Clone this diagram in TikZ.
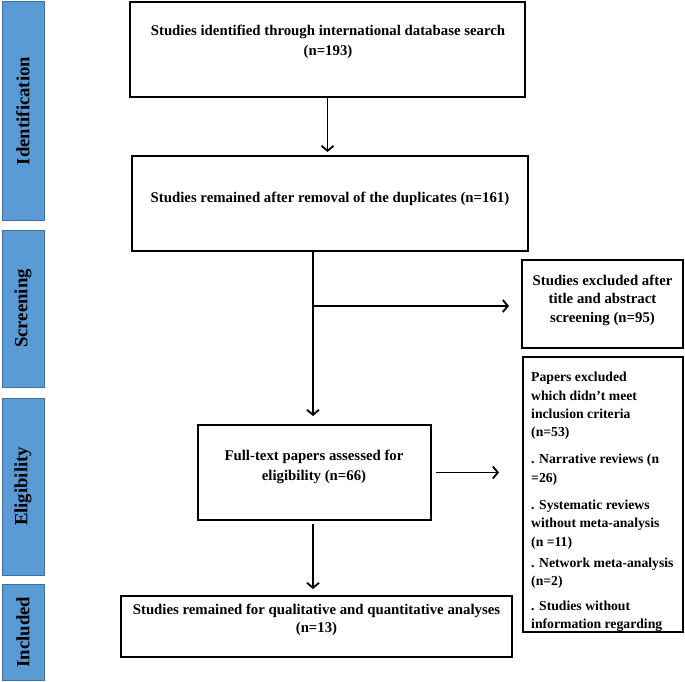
\documentclass[tikz,border=0pt]{standalone}
\usepackage{fontspec}
\setmainfont{Liberation Serif}
\usetikzlibrary{arrows.meta}
\definecolor{phasefill}{HTML}{5B9BD5}
\definecolor{phaseline}{HTML}{41719C}
\tikzset{
  phase/.style={draw=phaseline, fill=phasefill, line width=1pt, rotate=90,
    inner sep=0pt, font=\fontsize{18.7}{22}\selectfont\bfseries},
  stagebox/.style={draw=black, line width=2pt, inner sep=0pt},
  txt/.style={align=center, inner sep=0pt, font=\fontsize{14.8}{20}\selectfont\bfseries},
  arr/.style={draw=black, line width=1.8pt, -{Straight Barb[length=5pt, width=12pt, line width=1.8pt]}},
}
\begin{document}
\begin{tikzpicture}[x=1pt, y=-1pt]
\useasboundingbox (0,0) rectangle (685,682);
% phase bars
\node[phase, minimum width=218pt, minimum height=42pt] (pid) at (23,111) {Identification};
\node[phase, minimum width=157pt, minimum height=42pt] (psc) at (23,308.5) {Screening};
\node[phase, minimum width=177pt, minimum height=42pt] (pel) at (23,486.5) {Eligibility};
\node[phase, minimum width=96pt, minimum height=42pt] (pin) at (23,632) {Included};
% boxes
\node[stagebox, minimum width=395pt, minimum height=95pt] (b1) at (327.5,49.5) {};
\node[txt] (t1) at (328,42) {Studies identified through international database search\\(n=193)};
\node[stagebox, minimum width=396pt, minimum height=95pt] (b2) at (330,203.5) {};
\node[txt] (t2) at (330,199) {Studies remained after removal of the duplicates (n=161)};
\node[stagebox, minimum width=233pt, minimum height=95pt] (b3) at (314.5,472.5) {};
\node[txt] (t3) at (314,467) {Full-text papers assessed for\\eligibility (n=66)};
\node[stagebox, minimum width=391pt, minimum height=61pt] (b4) at (316.5,626.5) {};
\node[txt, font=\fontsize{14.8}{17.5}\selectfont\bfseries] (t4) at (316.5,620) {Studies remained for qualitative and quantitative analyses\\(n=13)};
\node[stagebox, minimum width=161pt, minimum height=88pt] (e1) at (602.5,304) {};
\node[txt, font=\fontsize{14.8}{18.5}\selectfont\bfseries] (te1) at (602.5,300) {Studies excluded after\\title and abstract\\screening (n=95)};
\node[stagebox, minimum width=160pt, minimum height=275pt] (e2) at (603,494.5) {};
\node[txt, align=left, anchor=north west, font=\fontsize{13.7}{18.3}\selectfont\bfseries] (te2) at (531,372) {Papers excluded\\which didn't meet\\inclusion criteria\\(n=53)\\[9pt]. Narrative reviews (n\\=26)\\[9pt]. Systematic reviews\\without meta-analysis\\(n =11)\\[3pt]. Network meta-analysis\\(n=2)\\[6pt]. Studies without\\information regarding};
% connectors
\coordinate (br) at (313,306);
\draw[arr, shorten >=3pt] (b1.south) -- (b1.south |- b2.north);
\draw[line width=1.8pt] (b2.south -| br) -- (br);
\draw[arr, shorten >=8pt] (br) -- (br |- b3.north);
\draw[arr, shorten >=12pt] (br) -- (br -| e1.west);
\draw[arr, shorten <=4pt, shorten >=23pt] (b3.east) -- (b3.east -| e2.west);
\draw[arr, shorten <=3pt, shorten >=6pt] (b3.south -| br) -- (b4.north -| br);
\end{tikzpicture}
\end{document}
